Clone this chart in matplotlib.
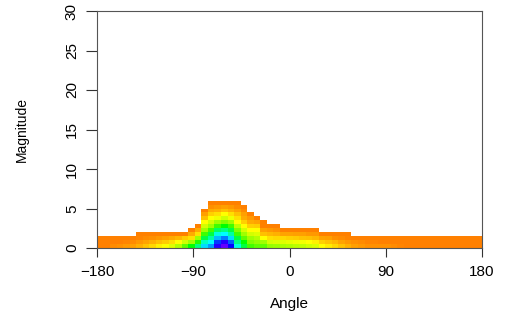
import numpy as np
import matplotlib
matplotlib.use("Agg")
import matplotlib.pyplot as plt
from matplotlib.colors import ListedColormap, hsv_to_rgb

# colour level of each cell, one list per angle bin, from magnitude 0 upwards
left_cols = [
    [0, 0, 0], [0, 0, 0], [0.2, 0, 0], [0.3, 0, 0], [0.4, 0.1, 0], [0.5, 0.2, 0],
    [0.8, 0.4, 0.1, 0], [1.1, 0.6, 0.2, 0], [1.4, 0.8, 0.3, 0], [1.8, 1.0, 0.4, 0],
    [2.1, 1.2, 0.5, 0], [2.5, 1.5, 0.7, 0], [3.3, 2.0, 0.9, 0], [4.5, 2.8, 1.2, 0],
    [6, 3.5, 1.5, 0.7, 0],
    [8, 5.5, 3.5, 1.5, 0.7, 0],
]
peak_cols = [
    [10.5, 9, 7, 5, 3.5, 2.7, 2, 1, 0.5, 0],
    [11.5, 10, 8.5, 7, 5, 3.5, 2.7, 2, 1.3, 0.7, 0.3, 0],
    [14.5, 13, 11, 9.5, 7.5, 5, 3.5, 2.3, 1.5, 0.8, 0.4, 0],
    [15.5, 14.5, 12, 10, 8, 6, 4, 2.8, 2, 1, 0.5, 0],
    [14, 12.5, 10.5, 8.5, 7, 5, 3.5, 2.3, 1.5, 0.8, 0.4, 0],
    [9.5, 8, 7, 5, 4, 3, 2, 1.5, 1, 0.5, 0.2, 0],
    [7, 6, 4.5, 3.5, 2.7, 2, 1.3, 0.7, 0.5, 0.2, 0],
    [5, 4, 3.5, 2.7, 2, 1.3, 0.7, 0.4, 0],
    [4.5, 3.7, 3.2, 2.5, 2, 1.2, 0.6, 0],
    [4.5, 3.5, 2, 1, 0.5, 0, 0],
]
right_cols = [
    [3.7, 2.7, 1.5, 0.9, 0.4, 0], [3.6, 2.6, 1.4, 0.8, 0.3, 0],
    [3.4, 2.5, 1.4, 0.6, 0], [3.3, 2.4, 1.3, 0.6, 0], [3.1, 2.3, 1.2, 0.5, 0],
    [3.0, 2.2, 1.1, 0.5, 0], [2.8, 2.0, 1.0, 0.4, 0], [2.6, 1.8, 0.9, 0.4, 0],
    [2.0, 1.3, 0.6, 0], [1.7, 1.1, 0.5, 0], [1.4, 0.9, 0.3, 0],
    [1.1, 0.6, 0.2, 0], [0.8, 0.4, 0.1, 0],
    [0.5, 0.25, 0], [0.4, 0.2, 0], [0.25, 0.1, 0], [0.25, 0.1, 0], [0.25, 0, 0],
    [0.25, 0, 0], [0.2, 0, 0], [0.1, 0, 0], [0, 0, 0], [0, 0, 0], [0, 0, 0],
    [0, 0, 0], [0, 0, 0], [0, 0, 0], [0, 0, 0], [0, 0, 0], [0, 0, 0], [0, 0, 0],
    [0, 0, 0], [0, 0, 0],
]
x_ticks = [-180, -90, 0, 90, 180]
y_ticks = [0, 5, 10, 15, 20, 25, 30]

columns = left_cols + peak_cols + right_cols
n_ang = len(columns)
n_mag = max(len(c) for c in columns)
angle_edges = np.linspace(-180, 180, n_ang + 1)
mag_edges = np.arange(n_mag + 1) * 0.5

Z = np.full((n_mag, n_ang), np.nan)
for k, col in enumerate(columns):
    Z[:len(col), k] = col
Z = np.ma.masked_invalid(Z)

# orange -> yellow -> green -> cyan -> blue -> violet
hues = np.linspace(30, 270, 256) / 360
cmap = ListedColormap(hsv_to_rgb(np.column_stack([hues, np.ones(256), np.ones(256)])))

plt.rcParams['font.family'] = ['Liberation Sans', 'DejaVu Sans']

fig = plt.figure(figsize=(5.15, 3.2), dpi=100)
ax = fig.add_axes([97 / 515, 72 / 320, 385 / 515, 237 / 320])
ax.pcolormesh(angle_edges, mag_edges, Z, cmap=cmap, vmin=0, vmax=16,
              shading='flat', antialiased=False, edgecolors='none')

ax.set_xlim(-180, 180)
ax.set_ylim(0, 30)
ax.set_xticks(x_ticks)
ax.set_yticks(y_ticks)
ax.set_xticklabels([f"{t}".replace("-", "\u2212") for t in x_ticks])
ax.tick_params(axis='x', length=6.5, width=0.8, color='#333333', pad=6, labelsize=11)
ax.tick_params(axis='y', length=8, width=0.8, color='#333333', pad=5, labelsize=11)
plt.setp(ax.get_yticklabels(), rotation=90, va='center')
for s in ax.spines.values():
    s.set_linewidth(0.8)
    s.set_color('#555555')

ax.set_xlabel("Angle", fontsize=11)
ax.set_ylabel("Magnitude", fontsize=10)
ax.xaxis.set_label_coords(0.5, -0.236)
ax.yaxis.set_label_coords(-0.195, 0.5)
ax.xaxis.label.set_va('center')
ax.yaxis.label.set_va('center')

fig.savefig("out.png", dpi=100)
